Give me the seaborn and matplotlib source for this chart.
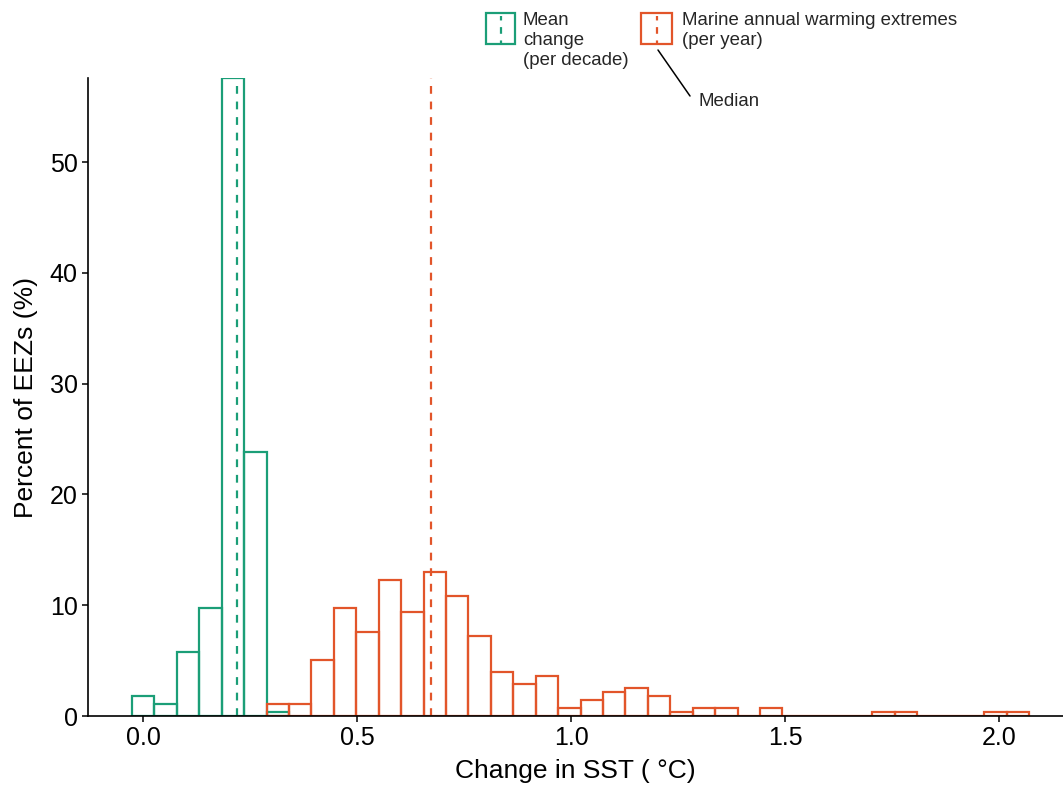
import numpy as np
import pandas as pd
import matplotlib
matplotlib.use("Agg")
import matplotlib.pyplot as plt
from matplotlib.patches import Rectangle
from matplotlib.lines import Line2D
import seaborn as sns

# ---- data (percent of EEZs per bin) ----
bin_width = 0.0524
mean_bins = [0, 1, 2, 3, 4, 5, 6]
mean_pct = [1.8, 1.05, 5.78, 9.74, 57.6, 23.8, 0.36]
ext_bins = [6, 7, 8, 9, 10, 11, 12, 13, 14, 15, 16, 17, 18, 19, 20, 21, 22, 23,
            24, 25, 26, 28, 33, 34, 38, 39]
ext_pct = [1.07, 1.07, 5.06, 9.72, 7.58, 12.25, 9.37, 12.97, 10.83, 7.2, 3.95,
           2.89, 3.6, 0.73, 1.44, 2.17, 2.52, 1.8, 0.36, 0.72, 0.72, 0.72,
           0.36, 0.36, 0.36, 0.36]
mean_median = 0.22
ext_median = 0.673
x_ticks = [0.0, 0.5, 1.0, 1.5, 2.0]
x_ticklabels = ["0.0", "0.5", "1.0", "1.5", "2.0"]
y_ticks = [0, 10, 20, 30, 40, 50]

GREEN = "#1b9e77"
ORANGE = "#e2552a"

sns.set_style("ticks")
plt.rcParams["font.family"] = ["Liberation Sans", "DejaVu Sans"]

W, H = 1063, 789
fig = plt.figure(figsize=(W / 100, H / 100), dpi=100)
ax = fig.add_axes([88 / W, 1 - 716 / H, (1063 - 88) / W, (716 - 78) / H])

df_mean = pd.DataFrame({"x": np.array(mean_bins) * bin_width, "w": mean_pct})
df_ext = pd.DataFrame({"x": np.array(ext_bins) * bin_width, "w": ext_pct})

def draw(df, col):
    lo = (min(df["x"]) / bin_width - 0.5) * bin_width
    hi = (max(df["x"]) / bin_width + 0.5) * bin_width
    sns.histplot(data=df, x="x", weights="w", binwidth=bin_width,
                 binrange=(lo, hi), stat="count", element="bars", fill=False,
                 color=col, linewidth=1.6, ax=ax)

draw(df_mean, GREEN)
draw(df_ext, ORANGE)

ax.axvline(mean_median, color=GREEN, linestyle=(0, (3.5, 3.5)), linewidth=1.6)
ax.axvline(ext_median, color=ORANGE, linestyle=(0, (3.5, 3.5)), linewidth=1.6)

ax.set_xlim(-0.129, 2.149)
ax.set_ylim(0, 57.6)
ax.set_xticks(x_ticks)
ax.set_xticklabels(x_ticklabels)
ax.set_yticks(y_ticks)
ax.tick_params(axis="both", labelsize=18, length=4.5, width=1.1, color="black",
               labelcolor="black", pad=3)
for s in ["top", "right"]:
    ax.spines[s].set_visible(False)
for s in ["left", "bottom"]:
    ax.spines[s].set_color("black")
    ax.spines[s].set_linewidth(1.2)

ax.set_xlabel("Change in SST ( °C)", fontsize=19, color="black", labelpad=6)
ax.set_ylabel("Percent of EEZs (%)", fontsize=19, color="black", labelpad=8)

# ---- custom legend at top ----
def fx(px):
    return px / W

def fy(py):
    return 1 - py / H

for (x0, x1, col) in [(486, 515, GREEN), (641, 672, ORANGE)]:
    fig.add_artist(Rectangle((fx(x0), fy(44)), fx(x1) - fx(x0), fy(13) - fy(44),
                             transform=fig.transFigure, fill=False,
                             edgecolor=col, linewidth=1.6))
    xc = fx((x0 + x1) / 2)
    fig.add_artist(Line2D([xc, xc], [fy(16), fy(44)], transform=fig.transFigure,
                          color=col, linewidth=1.6, linestyle=(1, (3, 3))))

fig.text(fx(523), fy(12), "Mean\nchange\n(per decade)", fontsize=13.4,
         va="top", ha="left", linespacing=1.22)
fig.text(fx(682), fy(12), "Marine annual warming extremes\n(per year)",
         fontsize=13.4, va="top", ha="left", linespacing=1.22)
fig.add_artist(Line2D([fx(658), fx(690)], [fy(50), fy(96)],
                      transform=fig.transFigure, color="black", linewidth=1.1))
fig.text(fx(698), fy(101), "Median", fontsize=13.4, va="center", ha="left")

fig.savefig("out.png", dpi=100)
